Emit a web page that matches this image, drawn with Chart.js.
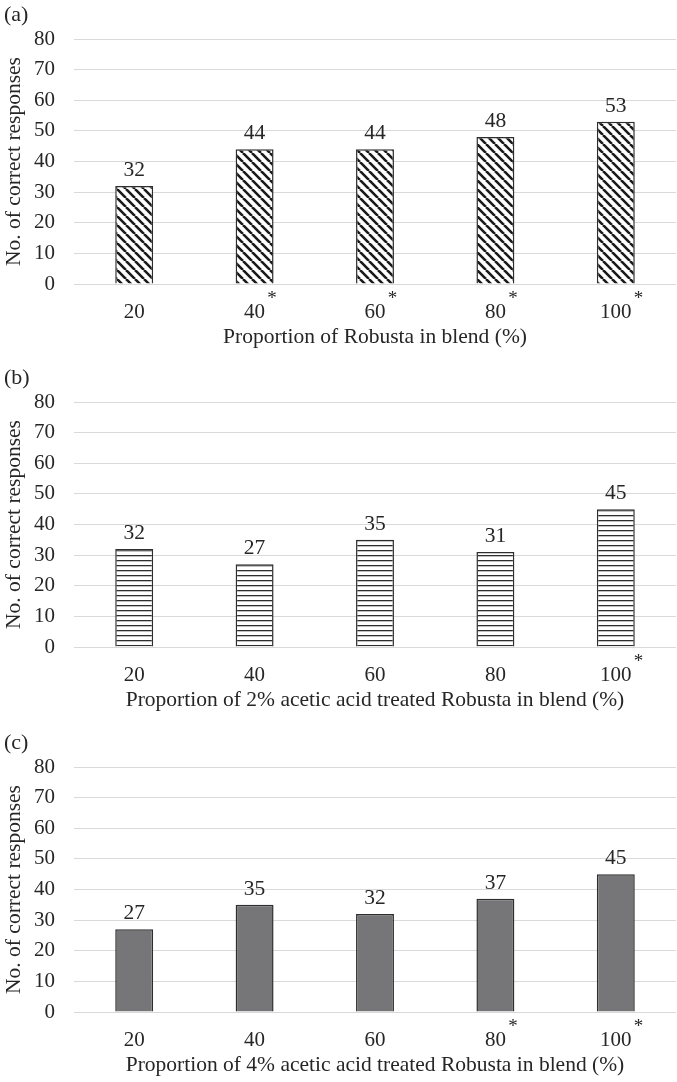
<!DOCTYPE html>
<html>
<head>
<meta charset="utf-8">
<script src="https://cdn.jsdelivr.net/npm/chart.js@4.4.1/dist/chart.umd.min.js"></script>
<style>
  html, body { margin: 0; padding: 0; background: #fff; overflow: hidden; }
  .panel { position: absolute; left: 0; width: 677px; height: 362px; }
</style>
</head>
<body>
<div class="panel" style="top:0"><canvas id="chartA"></canvas></div>
<div class="panel" style="top:363px"><canvas id="chartB"></canvas></div>
<div class="panel" style="top:728px"><canvas id="chartC"></canvas></div>
<script>
// ── Data ───────────────────────────────────────────────────────────────
const blendLevels = ['20', '40', '60', '80', '100'];

const robustaCorrect = [32, 44, 44, 48, 53];
const acetic2Correct = [32, 27, 35, 31, 45];
const acetic4Correct = [27, 35, 32, 37, 45];

// asterisk next to the x label = significant
const robustaSignif = [false, true, true, true, true];
const acetic2Signif = [false, false, false, false, true];
const acetic4Signif = [false, false, false, true, true];

const panelLabels = ['(a)', '(b)', '(c)'];
const xTitles = [
  'Proportion of Robusta in blend (%)',
  'Proportion of 2% acetic acid treated Robusta in blend (%)',
  'Proportion of 4% acetic acid treated Robusta in blend (%)'
];
const yTitle = 'No. of correct responses';

// ── Styling ────────────────────────────────────────────────────────────
const SERIF = '"Liberation Serif", "Times New Roman", serif';
const textColor = '#262626';
const edgeColor = '#2e2e2e';

function diagonalHatch() {
  const s = 9;
  const c = document.createElement('canvas');
  c.width = s; c.height = s;
  const g = c.getContext('2d');
  g.fillStyle = '#fff';
  g.fillRect(0, 0, s, s);
  g.strokeStyle = '#1a1a1a';
  g.lineWidth = 2.6;
  g.beginPath();
  for (let k = -1; k <= 1; k++) { g.moveTo(k * s, 0); g.lineTo(k * s + s, s); }
  g.stroke();
  return g.createPattern(c, 'repeat');
}

function horizontalHatch() {
  const c = document.createElement('canvas');
  c.width = 8; c.height = 5;
  const g = c.getContext('2d');
  g.fillStyle = '#fff';
  g.fillRect(0, 0, 8, 5);
  g.fillStyle = '#2e2e2e';
  g.fillRect(0, 2, 8, 1.3);
  return g.createPattern(c, 'repeat');
}

// value labels, asterisks and panel letter
const annotate = {
  id: 'annotate',
  afterDraw(chart, args, opts) {
    const ctx = chart.ctx;
    const values = chart.data.datasets[0].data;
    const xs = chart.scales.x;
    ctx.save();
    ctx.fillStyle = textColor;
    ctx.textAlign = 'center';
    ctx.textBaseline = 'alphabetic';
    ctx.font = `21.5px ${SERIF}`;
    chart.getDatasetMeta(0).data.forEach((bar, i) => ctx.fillText(values[i], bar.x, bar.y - 10));

    opts.signif.forEach((s, i) => {
      if (!s) return;
      ctx.font = `21px ${SERIF}`;
      const w = ctx.measureText(blendLevels[i]).width;
      ctx.font = `19px ${SERIF}`;
      ctx.fillText('*', xs.getPixelForTick(i) + w / 2 + 7, chart.chartArea.bottom + 20);
    });

    ctx.textAlign = 'left';
    ctx.textBaseline = 'middle';
    ctx.font = `22px ${SERIF}`;
    ctx.fillText(opts.panel, 4, 15);
    ctx.restore();
  }
};

function makePanel(id, values, signif, fill, panel, xTitle) {
  return new Chart(document.getElementById(id), {
    type: 'bar',
    data: {
      labels: blendLevels,
      datasets: [{
        data: values,
        backgroundColor: fill,
        borderColor: edgeColor,
        borderWidth: 1.5,
        barPercentage: 0.315,
        categoryPercentage: 1
      }]
    },
    plugins: [annotate],
    options: {
      responsive: true,
      maintainAspectRatio: false,
      animation: false,
      layout: { padding: { top: 39, left: 0, right: 1, bottom: 0 } },
      plugins: {
        legend: { display: false },
        tooltip: { enabled: false },
        annotate: { signif, panel }
      },
      scales: {
        x: {
          grid: { display: false },
          border: { display: false },
          ticks: { color: textColor, font: { family: SERIF, size: 21 }, padding: 8 },
          title: { display: true, text: xTitle, color: textColor, font: { family: SERIF, size: 21.5 }, padding: { top: 0, bottom: 12 } },
          afterFit: s => { s.height = 78; }
        },
        y: {
          min: 0,
          max: 80,
          grid: { color: '#d9d9d9', lineWidth: 1, drawTicks: false },
          border: { display: false },
          ticks: { stepSize: 10, color: textColor, font: { family: SERIF, size: 21 }, padding: 19 },
          title: { display: true, text: yTitle, color: textColor, font: { family: SERIF, size: 21.5 }, padding: { top: 1, bottom: 0 } },
          afterFit: s => { s.width = 74; }
        }
      }
    }
  });
}

makePanel('chartA', robustaCorrect, robustaSignif, diagonalHatch(), panelLabels[0], xTitles[0]);
makePanel('chartB', acetic2Correct, acetic2Signif, horizontalHatch(), panelLabels[1], xTitles[1]);
makePanel('chartC', acetic4Correct, acetic4Signif, '#767679', panelLabels[2], xTitles[2]);
</script>
</body>
</html>
